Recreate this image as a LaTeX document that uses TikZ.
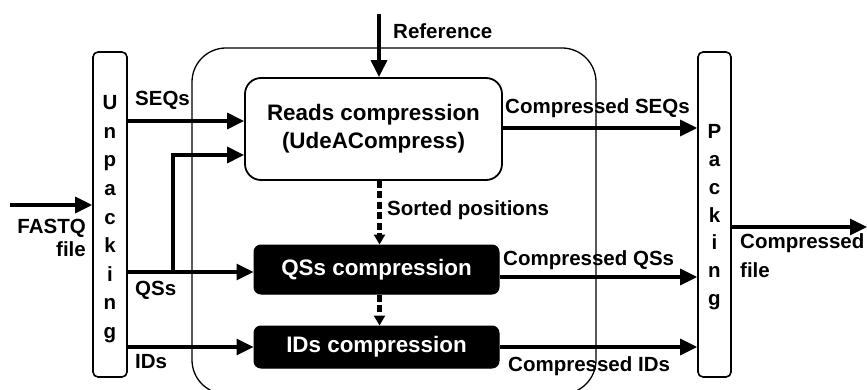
\documentclass[tikz,border=0pt]{standalone}
\usepackage{fontspec}
\setmainfont{Liberation Sans}
\usetikzlibrary{arrows.meta}
\begin{document}
\begin{tikzpicture}[x=1pt,y=-1pt,
  lbl/.style={font=\fontsize{20.5}{24}\selectfont\bfseries, inner sep=0pt},
  ltr/.style={font=\fontsize{20.5}{24}\selectfont\bfseries, inner sep=0pt, anchor=base},
  bar/.style={draw, line width=1.6pt, rounded corners=5pt, minimum height=325pt, inner sep=0pt},
  whitebox/.style={draw, line width=1.8pt, fill=white, rounded corners=16pt, align=center,
    inner sep=0pt, font=\fontsize{22.4}{28}\selectfont\bfseries},
  blackbox/.style={draw, line width=1pt, fill=black, text=white, rounded corners=7pt,
    inner sep=0pt, font=\fontsize{22.4}{27}\selectfont\bfseries},
  flow/.style={line width=3.3pt, -{Triangle[length=17pt,width=16pt]}},
  dflow/.style={line width=4.2pt, dash pattern=on 7pt off 3.5pt,
    -{Triangle[length=10pt,width=11pt]}},
]
\useasboundingbox (0,0) rectangle (867,390);

% enclosing frame of the compression stage
\draw[line width=1.3pt, rounded corners=34pt] (192,48) rectangle (596,394);

% side bars
\node[bar, minimum width=34pt] (unpack) at (110,214.5) {};
\node[bar, minimum width=33pt] (pack) at (714.5,214.5) {};
\foreach \ch [count=\i] in {U,n,p,a,c,k,i,n,g}
  \node[ltr] (un\i) at (110,{110+28.5*(\i-1)}) {\ch};
\foreach \ch [count=\i] in {P,a,c,k,i,n,g}
  \node[ltr] (pk\i) at (714.5,{139+27.7*(\i-1)}) {\ch};

% compression blocks
\node[whitebox, minimum width=257pt, minimum height=102pt] (reads) at (373.5,129)
  {Reads compression\\(UdeACompress)};
\node[blackbox, minimum width=245pt, minimum height=49pt] (qs) at (376.5,269.5) {QSs compression};
\node[blackbox, minimum width=245pt, minimum height=42pt] (ids) at (376.5,347) {IDs compression};

% reference points for the connectors
\coordinate (fin) at (10,205);
\coordinate (yseq) at (0,121);
\coordinate (yqs2) at (0,155);
\coordinate (fork) at (173,272);
\coordinate (yids) at (0,347);
\coordinate (refsrc) at (379,14);
\coordinate (xdash) at (379.5,0);
\coordinate (yoseq) at (0,128);
\coordinate (yoqs) at (0,277);
\coordinate (yoids) at (0,347);
\coordinate (fout) at (867,227);

% inputs
\draw[flow] (fin) -- (unpack.west |- fin);
\draw[flow] (unpack.east |- yseq) -- (reads.west |- yseq);
\draw[flow] (unpack.east |- fork) -- (qs.west |- fork);
\draw[flow] (fork) |- (reads.west |- yqs2);
\draw[flow] (unpack.east |- yids) -- (ids.west |- yids);
\draw[flow] (refsrc) -- (reads.north -| refsrc);

% sorted positions
\draw[dflow] (reads.south -| xdash) -- (qs.north -| xdash);
\draw[dflow] (qs.south -| xdash) -- (ids.north -| xdash);

% outputs
\draw[flow] (reads.east |- yoseq) -- (pack.west |- yoseq);
\draw[flow] (qs.east |- yoqs) -- (pack.west |- yoqs);
\draw[flow] (ids.east |- yoids) -- (pack.west |- yoids);
\draw[flow] (pack.east |- fout) -- (fout);

% labels
\node[lbl, anchor=base east] (lf1) at (86,233.3) {FASTQ};
\node[lbl, anchor=base east] (lf2) at (86,256.7) {file};
\node[lbl, anchor=base west] (lseq) at (135,106) {SEQs};
\node[lbl, anchor=base west] (lqs) at (135,295) {QSs};
\node[lbl, anchor=base west] (lids) at (135,368) {IDs};
\node[lbl, anchor=base west] (lref) at (393,38.3) {Reference};
\node[lbl, anchor=base west] (lsort) at (387,215) {Sorted positions};
\node[lbl, anchor=base west] (lcseq) at (505,113.3) {Compressed SEQs};
\node[lbl, anchor=base west] (lcqs) at (503,265) {Compressed QSs};
\node[lbl, anchor=base west] (lcids) at (508,371.7) {Compressed IDs};
\node[lbl, anchor=base west] (lcf1) at (740,248.3) {Compressed};
\node[lbl, anchor=base west] (lcf2) at (740,277) {file};
\end{tikzpicture}
\end{document}
